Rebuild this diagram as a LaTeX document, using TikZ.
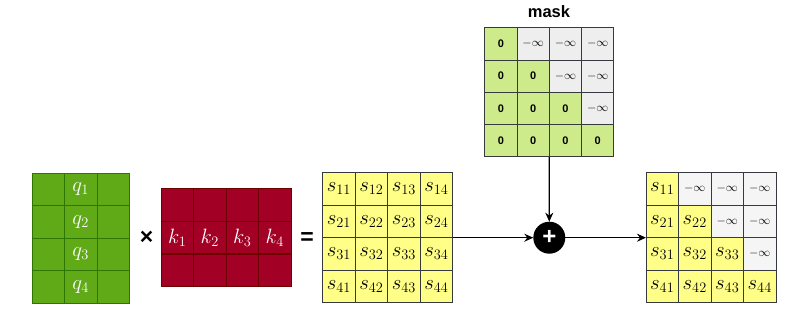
\documentclass[tikz,border=0pt]{standalone}
\usepackage{fontspec}
\newfontfamily\sansb{Liberation Sans}
\usetikzlibrary{arrows.meta}
\definecolor{qfill}{HTML}{60A917}
\definecolor{qline}{HTML}{2D7600}
\definecolor{kfill}{HTML}{A20025}
\definecolor{kline}{HTML}{6F0000}
\definecolor{sfill}{HTML}{FFFF88}
\definecolor{gline}{HTML}{36393D}
\definecolor{mgreen}{HTML}{CDEB8B}
\definecolor{mgrey}{HTML}{EEEEEE}
\definecolor{rgrey}{HTML}{F5F5F5}
\tikzset{
  cell/.style={draw, minimum width=32.5pt, minimum height=32.5pt, inner sep=0pt, outer sep=0pt, anchor=north west, line width=0.9pt},
  qcell/.style={cell, fill=qfill, draw=qline, text=white, font=\fontsize{20.5}{23}\selectfont},
  kcell/.style={cell, fill=kfill, draw=kline, text=white, font=\fontsize{20.5}{23}\selectfont},
  scell/.style={cell, fill=sfill, draw=gline, font=\fontsize{20.5}{23}\selectfont},
  mcellg/.style={cell, minimum width=32.3pt, minimum height=32.3pt, fill=mgreen, draw=gline, font=\sansb\bfseries\fontsize{11}{13}\selectfont},
  mcelli/.style={cell, minimum width=32.3pt, minimum height=32.3pt, fill=mgrey, draw=gline, font=\fontsize{11.5}{13}\selectfont},
  rcelli/.style={cell, fill=rgrey, draw=gline, font=\fontsize{11.5}{13}\selectfont},
  opsign/.style={font=\sansb\bfseries\fontsize{23}{26}\selectfont, inner sep=0pt},
  arr/.style={line width=1.3pt, -{Stealth[length=9pt,width=8pt]}},
}
\begin{document}
\begin{tikzpicture}[x=1pt,y=-1pt]
\useasboundingbox (0,0) rectangle (788,313);
% Q matrix
\foreach \r in {1,...,4}{
  \foreach \c in {1,...,3}{
    \node[qcell] (q\r\c) at ({32+(\c-1)*32.5},{173+(\r-1)*32.5}) {\ifnum\c=2 $q_{\r}$\fi};
  }
}
% K matrix
\foreach \r in {1,...,3}{
  \foreach \c in {1,...,4}{
    \node[kcell] (k\r\c) at ({161+(\c-1)*32.5},{188.5+(\r-1)*32.8}) {\ifnum\r=2 $k_{\c}$\fi};
  }
}
\node[opsign] (times) at (146.5,237.5) {×};
\node[opsign] (equals) at (307,238.5) {=};
% S matrix
\foreach \r in {1,...,4}{
  \foreach \c in {1,...,4}{
    \node[scell] (s\r\c) at ({322.7+(\c-1)*32.5},{172.7+(\r-1)*32.5}) {$s_{\r\c}$};
  }
}
% mask
\node[font=\sansb\bfseries\fontsize{16.5}{19}\selectfont] (masklabel) at (549,12) {mask};
\foreach \r in {1,...,4}{
  \foreach \c in {1,...,4}{
    \ifnum\c>\r
      \node[mcelli] (m\r\c) at ({484.7+(\c-1)*32.3},{27.7+(\r-1)*32.3}) {$-\infty$};
    \else
      \node[mcellg] (m\r\c) at ({484.7+(\c-1)*32.3},{27.7+(\r-1)*32.3}) {0};
    \fi
  }
}
% result
\foreach \r in {1,...,4}{
  \foreach \c in {1,...,4}{
    \ifnum\c>\r
      \node[rcelli] (o\r\c) at ({646+(\c-1)*32.5},{172.7+(\r-1)*32.5}) {$-\infty$};
    \else
      \node[scell] (o\r\c) at ({646+(\c-1)*32.5},{172.7+(\r-1)*32.5}) {$s_{\r\c}$};
    \fi
  }
}
% plus
\node[circle, fill=black, minimum size=32pt, inner sep=0pt, outer sep=0pt, text=white, font=\sansb\bfseries\fontsize{24}{26}\selectfont] (plus) at (549.3,237.7) {+};
% arrows
\draw[arr] (s24.south east) -- (plus.west);
\draw[arr] (m42.south east) -- (plus.north);
\draw[arr] (plus.east) -- (o21.south west);
\end{tikzpicture}
\end{document}
